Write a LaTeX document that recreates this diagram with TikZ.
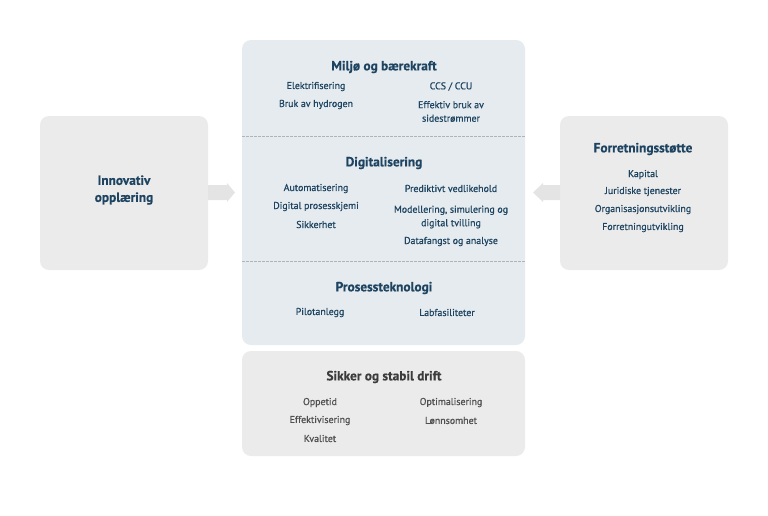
\documentclass[tikz,border=0pt]{standalone}
\usepackage{fontspec}
\setmainfont{PT Sans}
\newfontfamily\semifont[FakeBold=0.7]{PT Sans}
\newfontfamily\heavyfont[FakeBold=0.5]{PT Sans Bold}
\definecolor{navy}{HTML}{1E4461}
\definecolor{bluebg}{HTML}{E5EBEF}
\definecolor{graybg}{HTML}{EBEBEB}
\definecolor{darkgray}{HTML}{3C3C3C}
\definecolor{dashgray}{HTML}{AEB4B8}
\definecolor{arrowgray}{HTML}{E4E4E4}
\tikzset{
  panel/.style={rounded corners=9pt, draw=none},
  ttl/.style={font=\heavyfont\fontsize{13.3}{15}\selectfont, text=navy, inner sep=0pt},
  itm/.style={font=\semifont\fontsize{9.9}{13.5}\selectfont, text=navy, inner sep=0pt, align=center},
  gttl/.style={ttl, text=darkgray},
  gitm/.style={itm, text=darkgray!90},
  sep/.style={draw=dashgray, dashed, dash pattern=on 2.5pt off 1.5pt, line width=0.8pt},
  fatarrow/.style={fill=arrowgray, draw=none}
}
\begin{document}
\begin{tikzpicture}[x=1pt,y=-1pt]
\useasboundingbox (0,0) rectangle (768,515);
% panels
\path[panel, fill=bluebg] (242,40) rectangle (525,345);
\path[panel, fill=graybg] (242,351) rectangle (525,456);
\path[panel, fill=graybg] (40,116) rectangle (208,270);
\path[panel, fill=graybg] (560,116) rectangle (728,270);
% separators
\coordinate (s1a) at (242,136); \coordinate (s1b) at (525,136);
\coordinate (s2a) at (242,261); \coordinate (s2b) at (525,261);
\draw[sep] (s1a) -- (s1b);
\draw[sep] (s2a) -- (s2b);
% arrows
\path[fatarrow] (208,185) -- (227,185) -- (227,183) -- (235,192.5) -- (227,202) -- (227,200) -- (208,200) -- cycle;
\path[fatarrow] (560,185) -- (543,185) -- (543,183) -- (533,192.5) -- (543,202) -- (543,200) -- (560,200) -- cycle;
% Miljo
\node[ttl] (t1) at (384,67) {Miljø og bærekraft};
\node[itm] (a1) at (316,86.5) {Elektrifisering};
\node[itm] (a2) at (316,104.5) {Bruk av hydrogen};
\node[itm] (a3) at (451,86.5) {CCS / CCU};
\node[itm] (a4) at (451,111.5) {Effektiv bruk av\\sidestrømmer};
% Digitalisering
\node[ttl] (t2) at (384,163) {Digitalisering};
\node[itm] (b1) at (316,188.5) {Automatisering};
\node[itm] (b2) at (316,206.5) {Digital prosesskjemi};
\node[itm] (b3) at (316,224.5) {Sikkerhet};
\node[itm] (b4) at (451,188.5) {Prediktivt vedlikehold};
\node[itm] (b5) at (451,217) {Modellering, simulering og\\digital tvilling};
\node[itm] (b6) at (451,241.5) {Datafangst og analyse};
% Prosessteknologi
\node[ttl] (t3) at (384,288) {Prosessteknologi};
\node[itm] (c1) at (320,312.5) {Pilotanlegg};
\node[itm] (c2) at (447,312.5) {Labfasiliteter};
% Sikker og stabil drift
\node[gttl] (t4) at (384,377) {Sikker og stabil drift};
\node[gitm] (d1) at (320,402.5) {Oppetid};
\node[gitm] (d2) at (320,420.5) {Effektivisering};
\node[gitm] (d3) at (320,438.5) {Kvalitet};
\node[gitm] (d4) at (451,402.5) {Optimalisering};
\node[gitm] (d5) at (451,420.5) {Lønnsomhet};
% left
\node[ttl, align=center, font=\heavyfont\fontsize{13.3}{17}\selectfont] (t5) at (124,190) {Innovativ\\opplæring};
% right
\node[ttl] (t6) at (643,149) {Forretningsstøtte};
\node[itm] (e1) at (643,174.5) {Kapital};
\node[itm] (e2) at (643,191.5) {Juridiske tjenester};
\node[itm] (e3) at (643,209.5) {Organisasjonsutvikling};
\node[itm] (e4) at (643,227.5) {Forretningutvikling};
\end{tikzpicture}
\end{document}
